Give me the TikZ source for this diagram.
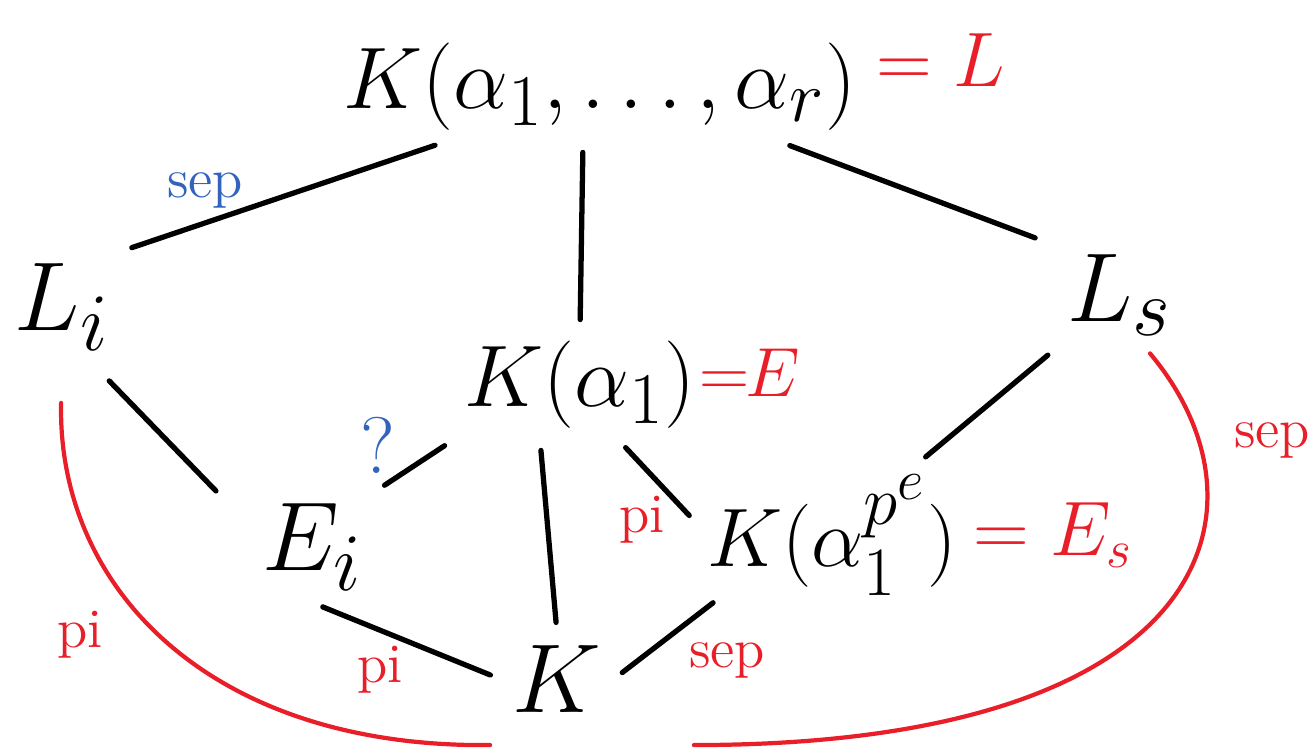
\documentclass[tikz,border=0pt]{standalone}
\usepackage{amsmath}
\usepackage{tikz}
\usetikzlibrary{calc,positioning}

\definecolor{inkred}{RGB}{232,30,40}
\definecolor{inkblue}{RGB}{50,100,190}

\begin{document}
\begin{tikzpicture}[
    fieldnode/.style={inner sep=3pt, font=\Huge},
    letternode/.style={fieldnode, scale=1.12},
    eqlabel/.style={text=inkred, inner sep=0pt, font=\huge, scale=1.06},
    redtag/.style={text=inkred, inner sep=0pt, font=\Large, scale=1.1},
    bluetag/.style={text=inkblue, inner sep=0pt, font=\Large, scale=1.1},
    edge/.style={line width=1.5pt, line cap=round, shorten <=3pt, shorten >=3pt},
    redarc/.style={draw=inkred, line width=1.2pt, line cap=round}
]
\useasboundingbox (0,0) rectangle (13.14,-7.54);

% fields
\node[fieldnode] (top) at (6.0,-0.87) {$K(\alpha_1,\ldots,\alpha_r)$};
\node[letternode] (Li) at (0.62,-3.07) {$L_i$};
\node[letternode] (Ls) at (11.2,-2.95) {$L_s$};
\node[fieldnode] (E) at (5.8,-3.85) {$K(\alpha_1)$};
\node[letternode] (Ei) at (3.13,-5.47) {$E_i$};
\node[fieldnode, scale=0.95] (Es) at (8.32,-5.35) {$K(\alpha_1^{p^e})$};
\node[letternode] (K) at (5.57,-6.79) {$K$};

% names in red
\node[eqlabel, right=0.08cm of top, yshift=0.25cm] (eqL) {$=L$};
\node[eqlabel, right=-0.08cm of E, yshift=0.12cm, scale=0.9] (eqE) {$=\!\!E$};
\node[eqlabel, right=0.05cm of Es] (eqEs) {$=E_s$};

% black lines
\draw[edge] ([xshift=-1.55cm]top.south) -- (Li.north east);
\draw[edge] ([xshift=-0.17cm]top.south) -- (E.north);
\draw[edge] ([xshift=1.8cm]top.south) -- ([xshift=-0.1cm]Ls.north west);
\draw[edge, shorten <=0.25cm, shorten >=0.35cm] ([xshift=-0.3cm]Li.south east) -- ([xshift=-0.1cm,yshift=-0.25cm]Ei.north west);
\draw[edge] (E.south west) -- (Ei.north east);
\draw[edge] ([xshift=-0.4cm]E.south) -- (K.north);
\draw[edge] (E.-55) -- (Es.175);
\draw[edge] (Ls) -- (Es);
\draw[edge] (Ei.south) -- (K.west);
\draw[edge] ([xshift=0.25cm,yshift=0.1cm]Es.south west) -- (K.east);

% red arcs
\draw[redarc, shorten <=0.4cm] (Li.south) .. controls +(-0.05,-2.25) and +(-2.8,-0.03) .. ([xshift=-0.1cm,yshift=-0.2cm]K.south west);
\draw[redarc] ([xshift=0.3cm,yshift=-0.05cm]Ls.south) .. controls +(1.3,-1.55) and +(5.2,0) .. ([xshift=0.8cm,yshift=-0.2cm]K.south east);

% tags
\node[bluetag] (tsep) at (2.05,-1.9) {sep};
\node[bluetag, font=\huge, scale=1] (tq) at (3.78,-4.45) {?};
\node[redtag] (tpiE) at (6.42,-5.2) {pi};
\node[redtag] (tpiEi) at (3.8,-6.7) {pi};
\node[redtag] (tsepK) at (7.27,-6.6) {sep};
\node[redtag] (tsepLs) at (12.72,-4.4) {sep};
\node[redtag] (tpiLi) at (0.8,-6.35) {pi};
\end{tikzpicture}
\end{document}
